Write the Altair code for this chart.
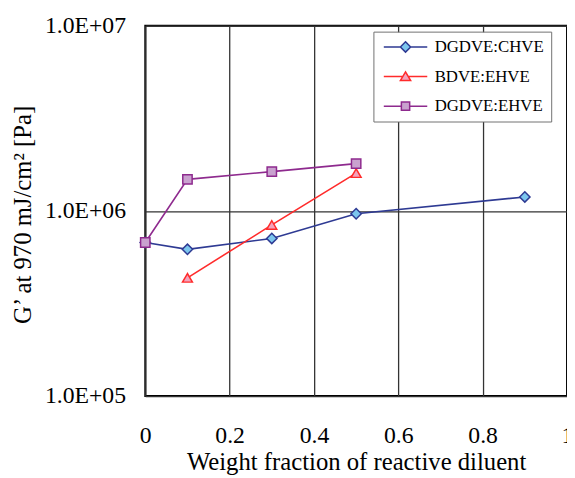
import altair as alt
import pandas as pd

series_names = ["DGDVE:CHVE", "BDVE:EHVE", "DGDVE:EHVE"]
chve_x = [0.0, 0.1, 0.3, 0.5, 0.9]
chve_y = [6.75e5, 6.2e5, 7.1e5, 9.65e5, 1.19e6]
bdve_x = [0.1, 0.3, 0.5]
bdve_y = [4.35e5, 8.4e5, 1.6e6]
ehve_x = [0.0, 0.1, 0.3, 0.5]
ehve_y = [6.75e5, 1.48e6, 1.63e6, 1.80e6]

line_colors = ["#2E3A93", "#FF2B2B", "#8E2A8E"]
fill_colors = ["#7CC6EE", "#F3A3BC", "#C9A2CF"]
marker_shapes = ["diamond", "triangle-up", "square"]
marker_sizes = [110, 100, 90]
legend_paths = [
    "M-5.5,0H-1.3M1.3,0H5.5M0,-1.3L1.3,0L0,1.3L-1.3,0Z",
    "M-5.5,0H-0.7M0.7,0H5.5M0,-1.2L1.3,1L-1.3,1Z",
    "M-5.5,0H-1.05M1.05,0H5.5M-1.05,-1.05H1.05V1.05H-1.05Z",
]
x_ticks = [0, 0.2, 0.4, 0.6, 0.8, 1]
y_ticks = [1e5, 1e6, 1e7]

rows = []
for name, xs, ys in zip(series_names, [chve_x, bdve_x, ehve_x], [chve_y, bdve_y, ehve_y]):
    for xv, yv in zip(xs, ys):
        rows.append({"series": name, "x": xv, "y": yv})
df = pd.DataFrame(rows)

legend = alt.Legend(
    title=None,
    orient="none",
    legendX=231,
    legendY=6,
    padding=7,
    fillColor="white",
    strokeColor="#707070",
    labelFont="Liberation Serif",
    labelFontSize=17,
    labelColor="black",
    symbolSize=64,
    symbolStrokeWidth=1.5,
    symbolOffset=17,
    labelOffset=21,
    rowPadding=12,
    symbolOpacity=1,
)

xenc = alt.X(
    "x:Q",
    scale=alt.Scale(domain=[0, 1], nice=False),
    axis=alt.Axis(
        values=x_ticks,
        format="~g",
        title="Weight fraction of reactive diluent",
        titleFont="Liberation Serif",
        titleFontSize=25,
        titleFontWeight="normal",
        titleColor="black",
        titleY=74,
        titleBaseline="alphabetic",
        labelFont="Liberation Serif",
        labelFontSize=24,
        labelColor="black",
        labelBaseline="alphabetic",
        labelPadding=47,
        ticks=False,
        tickSize=0,
        domain=False,
        grid=True,
        gridColor="#333333",
        gridWidth=1.3,
        labelFlush=False,
        labelOverlap=False,
    ),
)
yenc = alt.Y(
    "y:Q",
    scale=alt.Scale(type="log", domain=[1e5, 1e7], nice=False),
    axis=alt.Axis(
        values=y_ticks,
        labelExpr="'1.0E+0' + round(log(datum.value) / LN10)",
        title="G’ at 970 mJ/cm² [Pa]",
        titleFont="Liberation Serif",
        titleFontSize=25,
        titleFontWeight="normal",
        titleColor="black",
        titleAngle=-90,
        titleX=-124,
        titleY=191,
        titleAlign="center",
        titleBaseline="middle",
        labelFont="Liberation Serif",
        labelFontSize=24,
        labelColor="black",
        labelPadding=20,
        ticks=False,
        tickSize=0,
        domain=False,
        grid=True,
        gridColor="#333333",
        gridWidth=1.3,
        labelOverlap=False,
    ),
)

stroke_scale = alt.Scale(domain=series_names, range=line_colors)
fill_scale = alt.Scale(domain=series_names, range=fill_colors)

base = alt.Chart(df)

# Legend-only layer (draws no marks; its scales give the legend entries)
legend_layer = (
    base.transform_filter("false")
    .mark_point(filled=True, strokeWidth=1.5, opacity=1)
    .encode(
        x=xenc,
        y=yenc,
        stroke=alt.Stroke("series:N", scale=stroke_scale, legend=legend),
        fill=alt.Fill("series:N", scale=fill_scale, legend=legend),
        shape=alt.Shape("series:N", scale=alt.Scale(domain=series_names, range=legend_paths), legend=legend),
    )
)

lines = base.mark_line(strokeWidth=1.6).encode(
    x=xenc,
    y=yenc,
    stroke=alt.Stroke("series:N", scale=stroke_scale),
    detail="series:N",
    order="x:Q",
)

point_layers = []
for name, shp, sz in zip(series_names, marker_shapes, marker_sizes):
    point_layers.append(
        base.transform_filter(alt.datum.series == name)
        .mark_point(filled=True, shape=shp, size=sz, strokeWidth=1.5, opacity=1)
        .encode(
            x=xenc,
            y=yenc,
            stroke=alt.Stroke("series:N", scale=stroke_scale),
            fill=alt.Fill("series:N", scale=fill_scale),
        )
    )

chart = (
    alt.layer(legend_layer, lines, *point_layers)
    .properties(
        width=427,
        height=375,
        autosize=alt.AutoSizeParams(type="none"),
        padding={"left": 139, "top": 15, "right": 0, "bottom": 80},
        background="white",
    )
    .configure_view(stroke="black", strokeWidth=2)
)

chart.save("out.html", embed_options={"renderer": "svg", "actions": False})
